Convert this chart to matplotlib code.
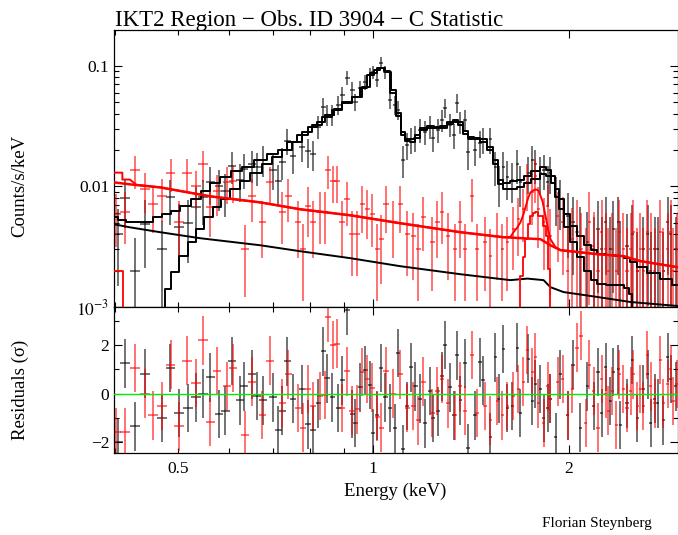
import numpy as np
import matplotlib.pyplot as plt
from matplotlib.ticker import FixedLocator, FuncFormatter, NullFormatter, LogLocator

plt.rcParams['font.family'] = ['Liberation Serif', 'DejaVu Serif']
plt.rcParams['mathtext.fontset'] = 'stix'

# ---------------- black spectrum (data, errors, residuals) ----------------
blk_e = [0.405, 0.415, 0.430, 0.445, 0.473, 0.487, 0.502, 0.519, 0.534, 0.547,
         0.561, 0.579, 0.592, 0.606, 0.624, 0.633, 0.651, 0.663, 0.677, 0.701,
         0.714, 0.724, 0.737, 0.753, 0.777, 0.794, 0.808, 0.823, 0.838, 0.849,
         0.865, 0.883, 0.896, 0.912, 0.928, 0.938, 0.955, 0.972, 0.989, 1.000,
         1.014, 1.029, 1.044, 1.062, 1.081, 1.093, 1.112, 1.128, 1.144, 1.161,
         1.181, 1.203, 1.224, 1.237, 1.259, 1.277, 1.291, 1.314, 1.332, 1.347,
         1.362, 1.385, 1.400, 1.436, 1.462, 1.477, 1.515, 1.542, 1.559, 1.586,
         1.609, 1.638, 1.667, 1.685, 1.733, 1.758, 1.777, 1.809, 1.829, 1.855,
         1.874, 1.908, 1.942, 1.991, 2.033, 2.084, 2.137, 2.184, 2.215, 2.246,
         2.278, 2.318, 2.343, 2.384, 2.402, 2.461, 2.506, 2.550, 2.605, 2.644,
         2.672, 2.710, 2.739, 2.797, 2.838, 2.868, 2.920]
blk_de = [0.007, 0.007, 0.008, 0.008, 0.008, 0.008, 0.009, 0.009, 0.009, 0.009,
          0.009, 0.009, 0.009, 0.009, 0.009, 0.009, 0.009, 0.009, 0.009, 0.009,
          0.009, 0.009, 0.009, 0.008, 0.008, 0.008, 0.008, 0.008, 0.008, 0.008,
          0.008, 0.008, 0.008, 0.008, 0.008, 0.008, 0.008, 0.008, 0.008, 0.008,
          0.008, 0.008, 0.008, 0.008, 0.008, 0.008, 0.009, 0.009, 0.009, 0.009,
          0.009, 0.009, 0.009, 0.009, 0.009, 0.009, 0.009, 0.009, 0.009, 0.009,
          0.009, 0.009, 0.010, 0.010, 0.010, 0.010, 0.010, 0.010, 0.010, 0.010,
          0.010, 0.010, 0.010, 0.010, 0.010, 0.010, 0.010, 0.010, 0.010, 0.010,
          0.010, 0.013, 0.013, 0.013, 0.014, 0.014, 0.014, 0.014, 0.015, 0.015,
          0.015, 0.015, 0.015, 0.015, 0.015, 0.016, 0.016, 0.016, 0.016, 0.017,
          0.017, 0.017, 0.017, 0.018, 0.018, 0.018, 0.018]
blk_v = [0.0040, 0.0080, 0.0020, 0.0049, 0.0030, 0.0081, 0.0046, 0.0050, 0.0067, 0.0081,
         0.0108, 0.0100, 0.0091, 0.0149, 0.0114, 0.0140, 0.0152, 0.0145, 0.0167, 0.0138,
         0.0110, 0.0160, 0.0240, 0.0177, 0.0214, 0.0195, 0.0185, 0.0313, 0.0458, 0.0394,
         0.0394, 0.0476, 0.0576, 0.0796, 0.0633, 0.0504, 0.0658, 0.0737, 0.0843, 0.0892,
         0.0766, 0.106, 0.0892, 0.0524, 0.0476, 0.0433, 0.0167, 0.0222, 0.0245, 0.0254,
         0.0296, 0.0285, 0.0313, 0.0254, 0.0296, 0.0358, 0.0449, 0.0325, 0.0269, 0.0495,
         0.0344, 0.0358, 0.0191, 0.0202, 0.0231, 0.0245, 0.0245, 0.0146, 0.0108, 0.0146,
         0.0119, 0.0114, 0.0152, 0.0108, 0.0130, 0.0167, 0.0152, 0.0130, 0.0138, 0.0108,
         0.0130, 0.00827, 0.00781, 0.00565, 0.00504, 0.00386, 0.00345, 0.00302, 0.00441, 0.00302,
         0.00504, 0.00302, 0.00441, 0.00504, 0.00264, 0.00319, 0.00401, 0.00198, 0.00302, 0.00401,
         0.00198, 0.00302, 0.00302, 0.00198, 0.00504, 0.00401, 0.00302]
blk_err = [0.0025, 0.0035, 0.0017, 0.0028, 0.0022, 0.0033, 0.0026, 0.0027, 0.0031, 0.0033,
           0.0038, 0.0037, 0.0035, 0.0045, 0.0040, 0.0044, 0.0046, 0.0045, 0.0048, 0.0044,
           0.0040, 0.0047, 0.0058, 0.0050, 0.0055, 0.0053, 0.0052, 0.0067, 0.0080, 0.0075,
           0.0075, 0.0082, 0.0090, 0.0105, 0.0095, 0.0085, 0.0097, 0.0102, 0.0110, 0.0110,
           0.0105, 0.0120, 0.0110, 0.0087, 0.0083, 0.0080, 0.0050, 0.0057, 0.0060, 0.0061,
           0.0066, 0.0065, 0.0068, 0.0061, 0.0066, 0.0073, 0.0082, 0.0070, 0.0063, 0.0086,
           0.0072, 0.0073, 0.0053, 0.0055, 0.0059, 0.0060, 0.0060, 0.0046, 0.0040, 0.0046,
           0.0042, 0.0041, 0.0047, 0.0040, 0.0044, 0.0050, 0.0047, 0.0044, 0.0045, 0.0040,
           0.0044, 0.0036, 0.0035, 0.0031, 0.0032, 0.0029, 0.0027, 0.0026, 0.0031, 0.0026,
           0.0032, 0.0026, 0.0031, 0.0032, 0.0025, 0.0027, 0.0030, 0.0022, 0.0026, 0.0030,
           0.0022, 0.0026, 0.0026, 0.0022, 0.0032, 0.0030, 0.0026]
blk_res = [-2.0, 1.25, -1.35, 0.83, -1.0, 1.05, -0.8, -0.6, -0.15, 0.0,
           0.67, -0.85, -0.7, 1.34, -0.28, 0.3, 0.8, -0.1, -0.28, -0.15,
           -1.5, -0.7, 1.33, -0.2, 0.18, -1.27, -1.5, -0.4, 1.75, 0.63,
           -0.15, -0.6, 0.55, 3.44, -0.85, -1.2, 0.26, 0.97, 0.35, -1.64,
           -0.9, 1.05, -0.15, -0.6, -1.43, 1.67, -2.3, -0.5, 1.09, 0.3,
           -0.2, -1.23, 0.1, -1.0, -0.73, 0.71, 2.0, 0.26, -0.9, 1.58,
           -0.28, 1.25, -2.26, -0.9, 1.29, 0.55, -1.8, 1.5, -0.2, 1.85,
           -0.6, -0.5, 1.9, -0.8, 1.45, -0.3, 0.4, 0.2, -1.0, -0.6,
           -0.2, -1.8, 0.8, -0.9, 1.2, -1.4, 0.3, -0.5, 0.9, -0.8,
           1.1, -0.3, 0.9, 1.0, -1.3, -0.4, 1.4, -1.0, 0.2, 0.8,
           -1.2, -0.2, -0.4, -1.1, 1.5, 0.6, 0.3]

# ---------------- red spectrum (data, errors, residuals) ----------------
red_e = [0.402, 0.415, 0.430, 0.445, 0.458, 0.473, 0.488, 0.502, 0.517, 0.534,
         0.547, 0.561, 0.575, 0.596, 0.608, 0.635, 0.651, 0.675, 0.694, 0.724,
         0.740, 0.766, 0.780, 0.794, 0.808, 0.829, 0.844, 0.852, 0.868, 0.880,
         0.896, 0.912, 0.928, 0.945, 0.962, 0.979, 0.996, 1.014, 1.029, 1.047,
         1.073, 1.100, 1.128, 1.152, 1.173, 1.194, 1.233, 1.255, 1.277, 1.304,
         1.337, 1.362, 1.385, 1.420, 1.446, 1.488, 1.515, 1.553, 1.580, 1.609,
         1.644, 1.673, 1.703, 1.727, 1.758, 1.777, 1.796, 1.829, 1.855, 1.874,
         1.922, 1.956, 1.991, 2.026, 2.062, 2.091, 2.122, 2.152, 2.184, 2.215,
         2.246, 2.278, 2.302, 2.335, 2.368, 2.393, 2.427, 2.461, 2.489, 2.515,
         2.550, 2.578, 2.605, 2.643, 2.672, 2.710, 2.768, 2.797, 2.838, 2.868,
         2.894, 2.930]
red_de = [0.007, 0.007, 0.008, 0.008, 0.008, 0.008, 0.008, 0.009, 0.009, 0.009,
          0.009, 0.009, 0.009, 0.009, 0.009, 0.009, 0.009, 0.009, 0.009, 0.009,
          0.009, 0.009, 0.009, 0.009, 0.009, 0.009, 0.009, 0.009, 0.009, 0.009,
          0.009, 0.009, 0.009, 0.009, 0.009, 0.009, 0.009, 0.009, 0.009, 0.010,
          0.010, 0.010, 0.010, 0.010, 0.010, 0.010, 0.010, 0.010, 0.010, 0.010,
          0.010, 0.010, 0.010, 0.010, 0.010, 0.010, 0.010, 0.010, 0.010, 0.010,
          0.010, 0.010, 0.010, 0.010, 0.010, 0.010, 0.010, 0.010, 0.010, 0.010,
          0.013, 0.013, 0.013, 0.013, 0.014, 0.014, 0.014, 0.014, 0.014, 0.015,
          0.015, 0.015, 0.015, 0.015, 0.015, 0.015, 0.015, 0.016, 0.016, 0.016,
          0.016, 0.016, 0.016, 0.017, 0.017, 0.017, 0.017, 0.018, 0.018, 0.018,
          0.018, 0.018]
red_v = [0.00587, 0.00610, 0.0138, 0.00945, 0.00709, 0.00827, 0.0130, 0.00504, 0.0130, 0.0100,
         0.0152, 0.00670, 0.00910, 0.0108, 0.0110, 0.00302, 0.00827, 0.00504, 0.0108, 0.00610,
         0.00827, 0.00504, 0.00302, 0.00683, 0.00504, 0.00610, 0.00610, 0.0138, 0.0110, 0.0110,
         0.00504, 0.00781, 0.00401, 0.00401, 0.00709, 0.00646, 0.00587, 0.00302, 0.00365, 0.00709,
         0.00504, 0.00709, 0.00401, 0.00386, 0.00302, 0.00554, 0.00345, 0.00504, 0.00610, 0.00386,
         0.00302, 0.00504, 0.00302, 0.00827, 0.00302, 0.00345, 0.00264, 0.00386, 0.00302, 0.00345,
         0.00441, 0.00534, 0.00646, 0.0108, 0.00892, 0.0121, 0.00646, 0.00504, 0.00683, 0.00386,
         0.00565, 0.00504, 0.00198, 0.00365, 0.00417, 0.00302, 0.00198, 0.00504, 0.00319, 0.00198,
         0.00417, 0.00302, 0.00198, 0.00302, 0.00198, 0.00417, 0.00302, 0.00198, 0.00302, 0.00417,
         0.00198, 0.00302, 0.00198, 0.00417, 0.00302, 0.00198, 0.00417, 0.00198, 0.00302, 0.00417,
         0.00198, 0.00302]
red_err = [0.0027, 0.0028, 0.0042, 0.0034, 0.0030, 0.0032, 0.0040, 0.0025, 0.0040, 0.0035,
           0.0043, 0.0029, 0.0034, 0.0037, 0.0037, 0.0018, 0.0032, 0.0025, 0.0037, 0.0028,
           0.0032, 0.0025, 0.0019, 0.0030, 0.0025, 0.0028, 0.0028, 0.0042, 0.0037, 0.0037,
           0.0025, 0.0031, 0.0022, 0.0022, 0.0030, 0.0028, 0.0027, 0.0019, 0.0021, 0.0030,
           0.0025, 0.0030, 0.0022, 0.0022, 0.0019, 0.0026, 0.0021, 0.0025, 0.0028, 0.0022,
           0.0019, 0.0025, 0.0019, 0.0032, 0.0019, 0.0021, 0.0018, 0.0022, 0.0019, 0.0021,
           0.0024, 0.0027, 0.0030, 0.0045, 0.0041, 0.0048, 0.0034, 0.0030, 0.0034, 0.0026,
           0.0033, 0.0032, 0.0025, 0.0030, 0.0036, 0.0030, 0.0025, 0.0040, 0.0030, 0.0025,
           0.0036, 0.0030, 0.0025, 0.0030, 0.0025, 0.0036, 0.0030, 0.0025, 0.0030, 0.0036,
           0.0025, 0.0030, 0.0025, 0.0036, 0.0030, 0.0025, 0.0036, 0.0025, 0.0030, 0.0036,
           0.0025, 0.0030]
red_res = [-1.6, -1.6, 1.05, 0.0, -0.9, -0.5, 1.2, -1.35, 1.37, 0.43,
           2.2, -1.18, 0.93, 0.3, 1.05, -1.7, 0.5, -0.88, 1.37, -0.4,
           0.8, -0.6, -1.4, 0.2, -0.5, -0.1, -0.05, 3.15, 2.0, 2.07,
           -0.6, 0.92, -0.7, -0.65, 0.9, 0.6, 0.25, -0.95, -1.4, 0.92,
           0.0, 0.8, -0.6, -0.5, -1.1, 0.5, -0.8, 0.1, 0.6, -0.4,
           -0.9, 0.3, -0.7, 1.6, -0.8, -0.5, -1.1, -0.3, -0.9, -0.5,
           -0.1, 0.2, 0.5, 1.8, 0.9, 1.5, -0.4, -1.2, 0.3, -0.2,
           0.5, 0.6, -0.9, 0.2, 1.9, 2.4, -1.2, 1.2, 0.1, -1.4,
           0.6, 0.0, -0.7, 0.1, -1.3, 0.8, 0.2, -0.6, 0.1, 0.8,
           -0.5, 0.2, -0.5, 1.6, 0.3, -0.4, 1.4, -0.4, 0.4, 1.0,
           -0.3, 0.4]

# ---------------- folded models ----------------
# black: total (source + background) and source only, drawn as histograms
mod_tot_e = [0.399, 0.411, 0.422, 0.438, 0.451, 0.466, 0.480, 0.496, 0.514, 0.536,
             0.551, 0.571, 0.592, 0.615, 0.640, 0.670, 0.701, 0.724, 0.750, 0.777,
             0.808, 0.829, 0.858, 0.880, 0.912, 0.945, 0.965, 0.989, 1.014, 1.032,
             1.055, 1.073, 1.093, 1.112, 1.128, 1.148, 1.169, 1.194, 1.224, 1.255,
             1.282, 1.314, 1.337, 1.362, 1.385, 1.411, 1.445, 1.477, 1.515, 1.542,
             1.569, 1.604, 1.644, 1.685, 1.727, 1.777, 1.829, 1.861, 1.888, 1.922,
             1.942, 1.991, 2.033, 2.084, 2.137, 2.184, 2.238, 2.318, 2.402, 2.461,
             2.515, 2.578, 2.700, 2.817, 2.940]
mod_tot = [0.00554, 0.00524, 0.00504, 0.00504, 0.00504, 0.00554, 0.00587, 0.00627, 0.00683, 0.00781,
           0.00910, 0.0106, 0.0119, 0.0133, 0.0146, 0.0167, 0.0184, 0.0202, 0.0235, 0.0269,
           0.0313, 0.0344, 0.0394, 0.0441, 0.0504, 0.0554, 0.0658, 0.0843, 0.0927, 0.0963,
           0.0892, 0.0633, 0.0409, 0.0285, 0.0249, 0.0245, 0.0269, 0.0307, 0.0319, 0.0313,
           0.0319, 0.0344, 0.0358, 0.0344, 0.0290, 0.0259, 0.0254, 0.0245, 0.0214, 0.0167,
           0.0114, 0.0106, 0.0110, 0.0112, 0.0121, 0.0133, 0.0144, 0.0138, 0.0121, 0.00945,
           0.00781, 0.00587, 0.00467, 0.00386, 0.00325, 0.00296, 0.00274, 0.00269, 0.00264, 0.00254,
           0.00235, 0.00214, 0.00192, 0.00170, 0.00152]
mod_src_e = [0.475, 0.480, 0.496, 0.510, 0.526, 0.541, 0.557, 0.575, 0.592, 0.613,
             0.635, 0.659, 0.687, 0.711, 0.737, 0.764, 0.791, 0.820, 0.849, 0.880,
             0.912, 0.945, 0.979, 1.000, 1.025, 1.051, 1.073, 1.093, 1.112, 1.128,
             1.148, 1.169, 1.194, 1.224, 1.255, 1.282, 1.314, 1.337, 1.362, 1.385,
             1.411, 1.445, 1.477, 1.515, 1.542, 1.569, 1.604, 1.644, 1.685, 1.727,
             1.777, 1.829, 1.861, 1.888, 1.922, 1.942, 1.991, 2.033, 2.084, 2.137,
             2.184, 2.238, 2.318, 2.402, 2.461, 2.489, 2.515, 2.578, 2.940]
mod_src = [1e-5, 0.00141, 0.00194, 0.00264, 0.00345, 0.00441, 0.00554, 0.00670, 0.00781, 0.00945,
           0.0110, 0.0130, 0.0152, 0.0174, 0.0202, 0.0235, 0.0280, 0.0325, 0.0379, 0.0433,
           0.0495, 0.0554, 0.0670, 0.0875, 0.0963, 0.0909, 0.0598, 0.0386, 0.0269, 0.0240,
           0.0235, 0.0254, 0.0296, 0.0307, 0.0302, 0.0307, 0.0331, 0.0344, 0.0325, 0.0274,
           0.0249, 0.0245, 0.0235, 0.0202, 0.0152, 0.0104, 0.00945, 0.00945, 0.00981, 0.0106,
           0.0116, 0.0126, 0.0121, 0.0106, 0.00811, 0.00646, 0.00458, 0.00345, 0.00259, 0.00198,
           0.00167, 0.00155, 0.00152, 0.00152, 0.00144, 0.00128, 0.0008, 0.0004, 0.0002]
# black background component
bkg_e = [0.399, 0.422, 0.470, 0.541, 0.670, 0.772, 0.922, 1.100, 1.362, 1.626,
         1.727, 1.829, 1.874, 1.963, 2.215, 2.489, 2.940]
bkg_v = [0.00485, 0.00458, 0.00417, 0.00372, 0.00325, 0.00290, 0.00254, 0.00218, 0.00187, 0.00167,
         0.00172, 0.00167, 0.00146, 0.00133, 0.00121, 0.00110, 0.00102]

# red: background component, total, and source component
rbkg_e = [0.399, 0.422, 0.470, 0.561, 0.670, 0.772, 0.922, 1.100, 1.362, 1.586,
          1.809, 1.874, 1.942, 2.215, 2.427, 2.578, 2.940]
rbkg_v = [0.0108, 0.0104, 0.00981, 0.00827, 0.00737, 0.00646, 0.00576, 0.00495, 0.00417, 0.00379,
          0.00365, 0.00325, 0.00296, 0.00274, 0.00264, 0.00240, 0.00214]
rtot_e = [0.399, 0.411, 0.411, 0.422, 0.432, 0.470, 0.561, 0.670, 0.772, 0.922,
          1.100, 1.362, 1.586, 1.626, 1.644, 1.667, 1.685, 1.703, 1.715, 1.733,
          1.746, 1.764, 1.777, 1.796, 1.822, 1.842, 1.861, 1.874, 1.908, 1.942,
          2.215, 2.427, 2.578, 2.940]
rtot_v = [0.0130, 0.0130, 0.0114, 0.0114, 0.0103, 0.00981, 0.00827, 0.00737, 0.00646, 0.00576,
          0.00495, 0.00417, 0.00379, 0.00380, 0.00417, 0.00458, 0.00504, 0.00587, 0.00670, 0.00811,
          0.00892, 0.00927, 0.00945, 0.00927, 0.00753, 0.00565, 0.00425, 0.00365, 0.00313, 0.00296,
          0.00274, 0.00264, 0.00240, 0.00214]
rsrc_e = [0.399, 0.412, 1.673, 1.685, 1.703, 1.715, 1.733, 1.746, 1.764, 1.777,
          1.796, 1.822, 1.842, 1.855, 1.861, 1.868]
rsrc_v = [0.0020, 1e-5, 1e-5, 0.00180, 0.00259, 0.00365, 0.00485, 0.00565, 0.00598, 0.00610,
          0.00565, 0.00467, 0.00386, 0.00274, 0.00206, 1e-5]

fig = plt.figure(figsize=(6.78, 5.35), dpi=100)
W = 678.0
H = 535.0
ax1 = fig.add_axes([114 / W, 1 - 307 / H, 563.5 / W, 277 / H])
ax2 = fig.add_axes([114 / W, 1 - 453 / H, 563.5 / W, 146 / H], sharex=ax1)

# spectra
ax1.errorbar(blk_e, blk_v, xerr=blk_de, yerr=blk_err, fmt='none',
             ecolor='black', elinewidth=1.1, alpha=0.7, zorder=2)
ax1.errorbar(red_e, red_v, xerr=red_de, yerr=red_err, fmt='none',
             ecolor='red', elinewidth=1.1, alpha=0.7, zorder=2)

# models
ax1.plot(bkg_e, bkg_v, color='black', lw=1.4, zorder=3)
ax1.step(mod_tot_e, mod_tot, where='mid', color='black', lw=1.4, zorder=3)
ax1.step(mod_src_e, mod_src, where='mid', color='black', lw=1.4, zorder=3)
ax1.plot(rbkg_e, rbkg_v, color='red', lw=1.8, zorder=3)
ax1.plot(rtot_e, rtot_v, color='red', lw=1.4, zorder=3)
ax1.step(rsrc_e, rsrc_v, where='post', color='red', lw=1.3, zorder=3)

# residuals
ax2.errorbar(blk_e, blk_res, xerr=blk_de, yerr=1.0, fmt='none',
             ecolor='black', elinewidth=1.1, alpha=0.7, zorder=2)
ax2.errorbar(red_e, red_res, xerr=red_de, yerr=1.0, fmt='none',
             ecolor='red', elinewidth=1.1, alpha=0.7, zorder=2)
ax2.axhline(0, color='#00ee00', lw=1.0, zorder=3)

for ax in (ax1, ax2):
    ax.set_xscale('log')
    ax.set_xlim(0.399, 2.94)
    ax.tick_params(which='both', direction='in', top=True, right=True,
                   labelsize=12.5, width=0.8)
    ax.tick_params(which='major', length=6)
    ax.tick_params(which='minor', length=3.5)
    ax.xaxis.set_major_locator(FixedLocator([1, 2]))
    ax.xaxis.set_minor_locator(FixedLocator([0.4, 0.5, 0.6, 0.7, 0.8, 0.9]))
    for s in ax.spines.values():
        s.set_linewidth(0.9)

ax1.set_yscale('log')
ax1.set_ylim(1e-3, 0.198)
ax1.yaxis.set_major_locator(FixedLocator([1e-3, 1e-2, 1e-1]))
ax1.yaxis.set_major_formatter(FuncFormatter(
    lambda y, p: {1e-3: r'$10^{-3}$', 1e-2: '0.01', 1e-1: '0.1'}.get(round(y, 6), '')))
ax1.yaxis.set_minor_locator(LogLocator(base=10, subs=np.arange(2, 10)))
ax1.yaxis.set_minor_formatter(NullFormatter())
ax1.tick_params(axis='x', which='both', labelbottom=False)

ax2.set_ylim(-2.45, 3.58)
ax2.yaxis.set_major_locator(FixedLocator([-2, 0, 2]))
ax2.yaxis.set_minor_locator(FixedLocator([-1, 1, 3]))
ax2.xaxis.set_major_formatter(FuncFormatter(lambda x, p: '%g' % x))
ax2.xaxis.set_minor_formatter(FuncFormatter(lambda x, p: '0.5' if abs(x - 0.5) < 1e-6 else ''))
ax2.tick_params(axis='x', which='both', pad=6)

fig.text(115 / W, 1 - 26 / H, 'IKT2 Region \u2212 Obs. ID 3904 \u2212 C Statistic',
         ha='left', va='baseline', fontsize=16.5)
fig.text(20 / W, 1 - 186 / H, 'Counts/s/keV', rotation=90, ha='center', va='center',
         fontsize=13.5)
fig.text(20 / W, 1 - 390 / H, 'Residuals (\u03c3)', rotation=90, ha='center', va='center',
         fontsize=13.5)
fig.text(395 / W, 1 - 491 / H, 'Energy (keV)', ha='center', va='center', fontsize=13.5)
fig.text(597 / W, 1 - 523 / H, 'Florian Steynberg', ha='center', va='center', fontsize=11)

fig.savefig('out.png', dpi=100)
